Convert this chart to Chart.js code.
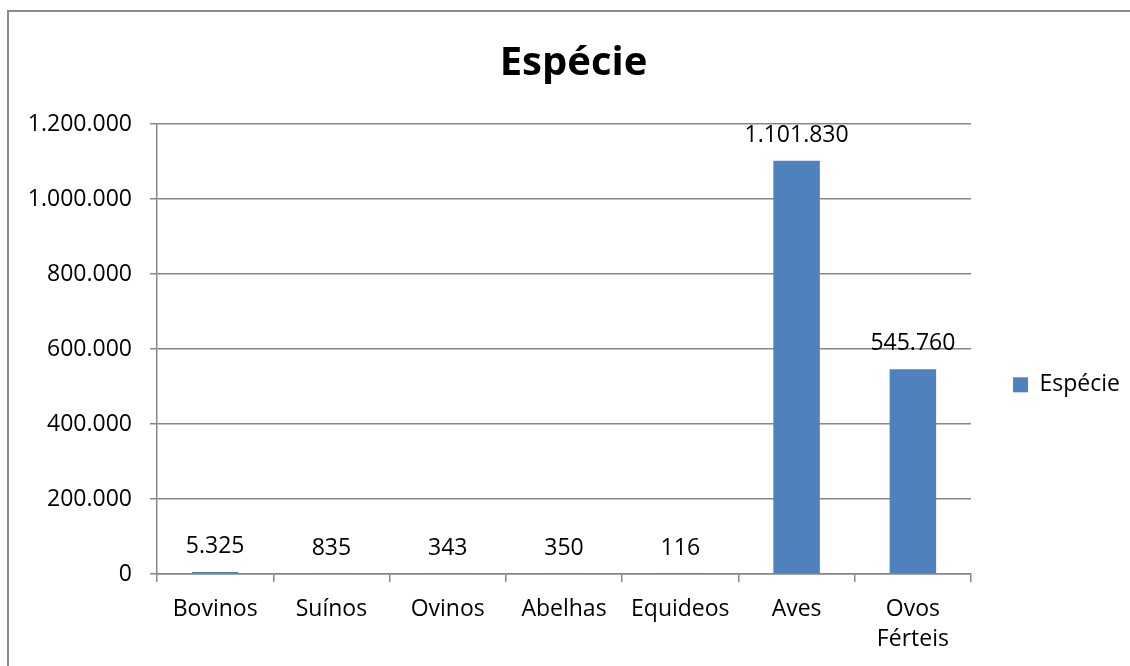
<!DOCTYPE html>
<html>
<head>
<meta charset="utf-8">
<script src="https://cdn.jsdelivr.net/npm/chart.js@4/dist/chart.umd.min.js"></script>
<style>
  body { margin: 0; background: #fff; }
  #wrap { position: relative; width: 1130px; height: 666px; overflow: hidden; }
  #frame { position: absolute; left: 7px; top: 10px; width: 1200px; height: 700px;
           border: 2px solid #8a8a8a; box-sizing: border-box; pointer-events: none; }
</style>
</head>
<body>
<div id="wrap">
  <canvas id="grafico" width="1130" height="666"></canvas>
  <div id="frame"></div>
</div>
<script>
const categorias = ['Bovinos', 'Suínos', 'Ovinos', 'Abelhas', 'Equideos', 'Aves', ['Ovos', 'Férteis']];
const valores = [5325, 835, 343, 350, 116, 1101830, 545760];
const nomeSerie = 'Espécie';
const eixoMax = 1200000;
const eixoPasso = 200000;

const fonte = 'Open Sans';
const tamanho = 23;
const cinza = '#878787';

// formato pt-BR: 1.200.000
function formatar(v) {
    return String(Math.round(v)).replace(/\B(?=(\d{3})+(?!\d))/g, '.');
}

// rótulos de dados acima das barras
const rotulos = {
    id: 'rotulos',
    afterDatasetsDraw(chart) {
        const ctx = chart.ctx;
        const meta = chart.getDatasetMeta(0);
        ctx.save();
        ctx.font = tamanho + 'px "' + fonte + '"';
        ctx.fillStyle = '#000';
        ctx.textAlign = 'center';
        ctx.textBaseline = 'alphabetic';
        meta.data.forEach((barra, i) => {
            ctx.fillText(formatar(valores[i]), barra.x, barra.y - 19);
        });
        ctx.restore();
    }
};

const ctx = document.getElementById('grafico').getContext('2d');
new Chart(ctx, {
    type: 'bar',
    data: {
        labels: categorias,
        datasets: [{
            label: nomeSerie,
            data: valores,
            backgroundColor: '#4F81BD',
            borderWidth: 0,
            barPercentage: 0.4,
            categoryPercentage: 1
        }]
    },
    options: {
        responsive: false,
        animation: false,
        layout: { padding: { left: 17, right: 0, top: 0, bottom: 0 } },
        scales: {
            x: {
                grid: { drawOnChartArea: false, drawTicks: true, tickLength: 8, color: cinza, lineWidth: 1.5 },
                border: { color: cinza, width: 1.5 },
                ticks: { color: '#000', font: { family: fonte, size: tamanho, lineHeight: 1.3 }, padding: 13, maxRotation: 0 },
                afterFit(scale) { scale.height = 92; }
            },
            y: {
                min: 0,
                max: eixoMax,
                ticks: {
                    stepSize: eixoPasso,
                    color: '#000',
                    font: { family: fonte, size: tamanho },
                    padding: 18,
                    callback: v => formatar(v)
                },
                grid: { color: cinza, lineWidth: 1.5, tickLength: 7 },
                border: { color: cinza, width: 1.5 },
                afterFit(scale) { scale.width = 140; }
            }
        },
        plugins: {
            title: {
                display: true,
                text: nomeSerie,
                color: '#000',
                font: { family: fonte, size: 40, weight: 'bold' },
                padding: { top: 40, bottom: 36 }
            },
            legend: {
                position: 'right',
                title: { display: true, text: ' ', font: { size: tamanho }, padding: { top: 0, bottom: 76 } },
                labels: {
                    color: '#000',
                    font: { family: fonte, size: tamanho },
                    boxWidth: 15,
                    boxHeight: 15,
                    padding: 42
                }
            },
            tooltip: { enabled: false }
        }
    },
    plugins: [rotulos]
});
</script>
</body>
</html>
